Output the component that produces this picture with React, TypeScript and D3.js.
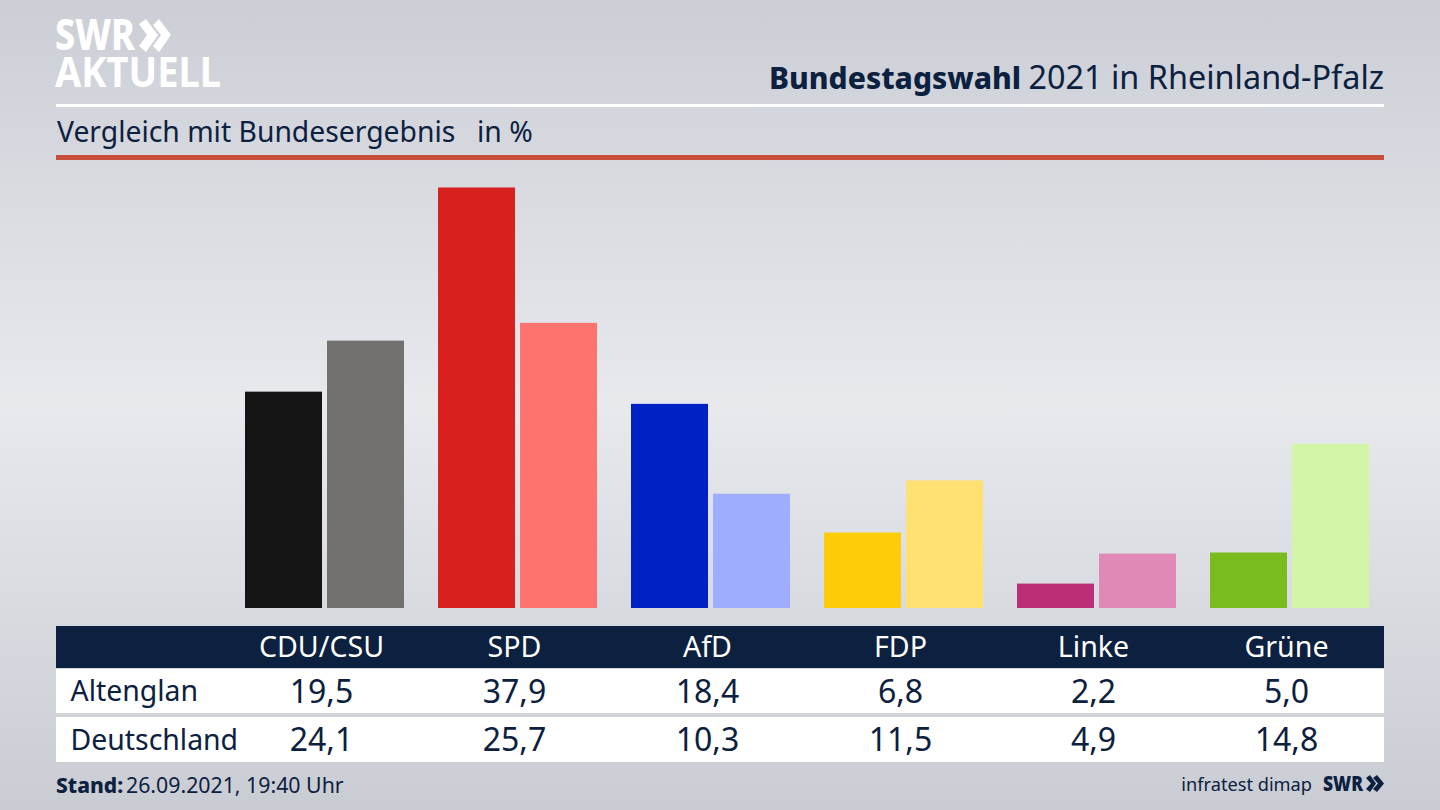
import React from 'react';
import * as d3 from 'd3';

const parties = ['CDU/CSU', 'SPD', 'AfD', 'FDP', 'Linke', 'Grüne'];
const regions = ['Altenglan', 'Deutschland'];
const altenglan = [19.5, 37.9, 18.4, 6.8, 2.2, 5.0];
const deutschland = [24.1, 25.7, 10.3, 11.5, 4.9, 14.8];
const strongColors = ['#141414', '#d8201e', '#0021c4', '#ffcc0a', '#bb2e78', '#78bc1e'];
const paleColors = ['#72716f', '#ff736e', '#9fadff', '#ffe070', '#e088b6', '#d2f5a8'];

const width = 1440;
const height = 810;
const font = '"Noto Sans", sans-serif';
const navy = '#0c2040';

const fmt = d3.formatLocale({
  decimal: ',', thousands: '.', grouping: [3], currency: ['', '€'],
}).format('.1f');

const App = () => {
  const x = d3.scaleBand<string>().domain(parties).range([228, 1386]);
  const inner = d3.scaleBand<string>().domain(regions).range([0, 159]).paddingInner(5 / 82);
  const y = d3.scaleLinear().domain([0, 37.9]).range([608, 187.5]);
  const center = (p: string) => x(p)! + x.bandwidth() / 2;
  const left = (p: string) => center(p) - 79.5;
  // table columns sit on the gap between the two bars
  const labelX = (p: string) => left(p) + 76.5;

  const rows = [altenglan, deutschland];
  const rowY = [703, 751];

  return (
    <svg width={width} height={height} style={{ position: 'absolute', top: 0, left: 0, display: 'block' }}>
      <defs>
        <linearGradient id="bg" x1="0" y1="0" x2="0" y2="1">
          <stop offset="0" stopColor="#cbced5" />
          <stop offset="0.5" stopColor="#e7e9ed" />
          <stop offset="1" stopColor="#c9ccd3" />
        </linearGradient>
      </defs>
      <rect width={width} height={height} fill="url(#bg)" />

      {/* logo */}
      <g fill="#fff" fontFamily={font} fontWeight={800}>
        <text x={55} y={50} fontSize={42} textLength={80} lengthAdjust="spacingAndGlyphs">SWR</text>
        <path d="M139 24L146 19L158 35L146 52L139 46L147 35Z M153 25L159 19L171 35L159 52L153 46L161 35Z" />
        <text x={55} y={87} fontSize={42} fontWeight={700} textLength={166} lengthAdjust="spacingAndGlyphs">AKTUELL</text>
      </g>

      <text x={769} y={89} fontFamily={font} fontSize={30} fontWeight={800} fill={navy}>Bundestagswahl</text>
      <text x={1384} y={89} textAnchor="end" fontFamily={font} fontSize={32.4} fill={navy}>2021 in Rheinland-Pfalz</text>
      <rect x={56} y={104} width={1328} height={3} fill="#fff" />
      <text x={57} y={142} fontFamily={font} fontSize={28.3} fill={navy}>Vergleich mit Bundesergebnis</text>
      <text x={477} y={142} fontFamily={font} fontSize={28.3} fill={navy}>in %</text>
      <rect x={56} y={155} width={1328} height={5} fill="#c9503c" />

      {parties.map((p, i) => (
        <g key={p}>
          <rect x={left(p) + inner(regions[0])!} y={y(altenglan[i])} width={inner.bandwidth()}
            height={y(0) - y(altenglan[i])} fill={strongColors[i]} />
          <rect x={left(p) + inner(regions[1])!} y={y(deutschland[i])} width={inner.bandwidth()}
            height={y(0) - y(deutschland[i])} fill={paleColors[i]} />
        </g>
      ))}

      <rect x={56} y={626} width={1328} height={42} fill={navy} />
      <rect x={56} y={669} width={1328} height={44} fill="#fff" />
      <rect x={56} y={717} width={1328} height={45} fill="#fff" />

      <g fontFamily={font} textAnchor="middle">
        {parties.map(p => (
          <text key={p} x={labelX(p)} y={657} fontSize={28.6} fill="#fff">{p}</text>
        ))}
        {rows.map((vals, r) => vals.map((v, i) => (
          <text key={parties[i] + r} x={labelX(parties[i])} y={rowY[r]} fontSize={32} fill={navy}>{fmt(v)}</text>
        )))}
      </g>
      {regions.map((r, i) => (
        <text key={r} x={70.5} y={[701, 750][i]} fontFamily={font} fontSize={28.4} fill={navy}>{r}</text>
      ))}

      <text x={56} y={793} fontFamily={font} fontSize={21} fill={navy} fontWeight={800}>Stand:</text>
      <text x={126} y={793} fontFamily={font} fontSize={21.3} fill={navy}>26.09.2021, 19:40 Uhr</text>
      <text x={1312} y={791} textAnchor="end" fontFamily={font} fontSize={18.2} fill={navy}>infratest dimap</text>
      <g fill={navy} fontFamily={font} fontWeight={900}>
        <text x={1323} y={791} fontSize={21} textLength={40} lengthAdjust="spacingAndGlyphs">SWR</text>
        <path d="M1366 778L1370 775L1376 783.5L1370 792L1366 789L1371 783.5Z M1373 778L1377 775L1384 783.5L1377 792L1373 789L1378 783.5Z" />
      </g>
    </svg>
  );
};

export default App;
